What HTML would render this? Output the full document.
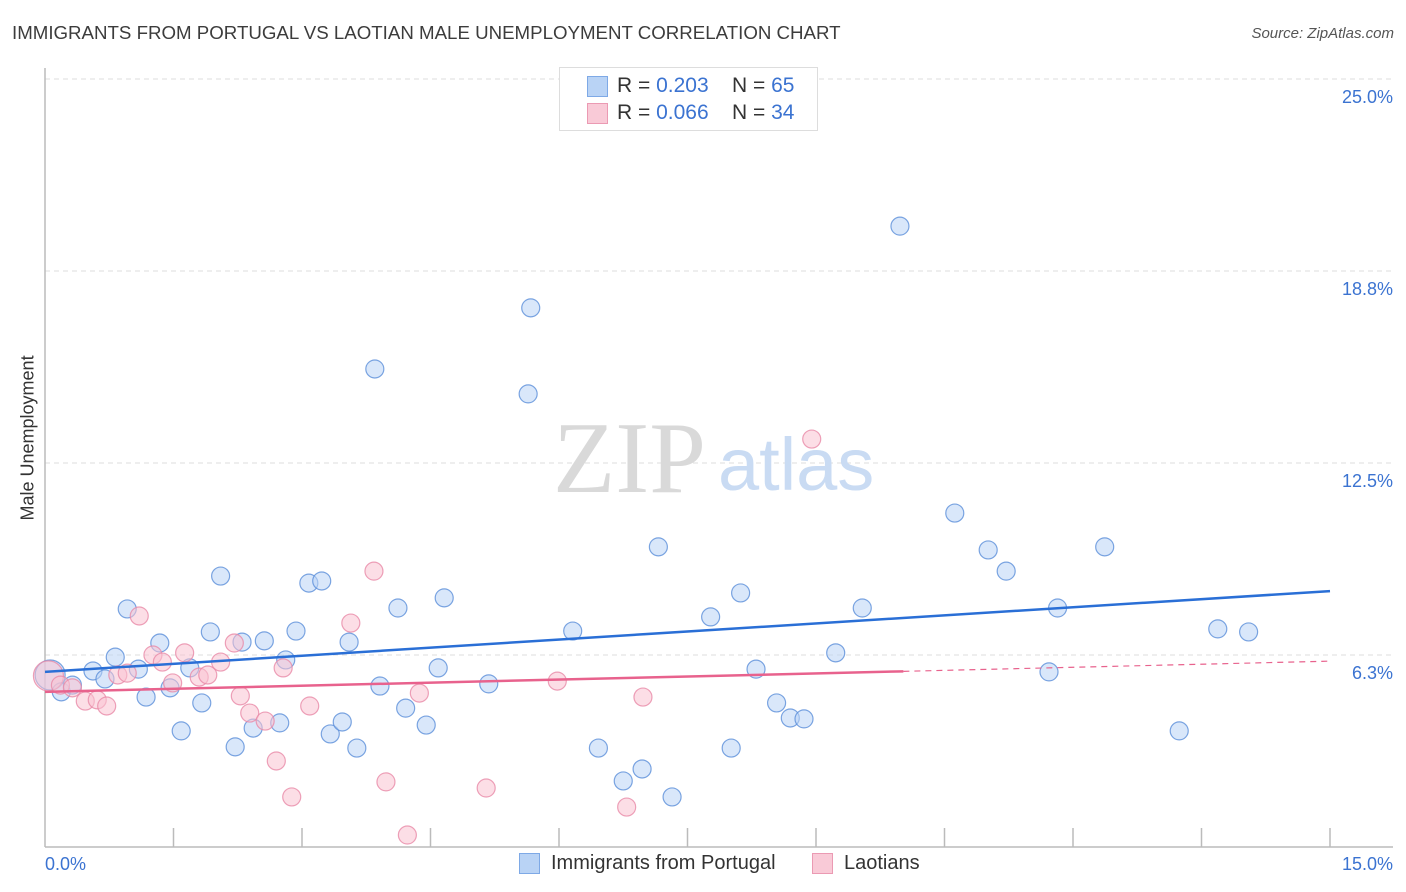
<!DOCTYPE html>
<html><head><meta charset="utf-8">
<style>
body{margin:0;background:#fff;font-family:"Liberation Sans",sans-serif;}
#wrap{position:relative;width:1406px;height:892px;overflow:hidden;}
.t{position:absolute;white-space:nowrap;}
</style></head>
<body>
<div id="wrap">
<div class="t" style="left:12px;top:22px;font-size:18.7px;color:#3c3c3c;">IMMIGRANTS FROM PORTUGAL VS LAOTIAN MALE UNEMPLOYMENT CORRELATION CHART</div>
<div class="t" style="right:12px;top:25px;font-size:15px;color:#555;font-style:italic;">Source: ZipAtlas.com</div>
<div class="t" style="left:-37px;top:445px;font-size:18px;color:#333;transform:rotate(-90deg);width:130px;text-align:center;">Male Unemployment</div>
<svg id="svg" width="1406" height="892" style="position:absolute;left:0;top:0;"></svg>
<div style="position:absolute;left:559px;top:67px;width:257px;height:62px;border:1px solid #ddd;background:#fff;">
 <div style="position:absolute;left:27px;top:8px;width:19px;height:19px;background:#b9d3f5;border:1px solid #7ea9e6;"></div>
 <div class="t" style="left:57px;top:6px;font-size:21px;color:#333;">R = <span style="color:#3b73d1">0.203</span>&nbsp;&nbsp;&nbsp; N = <span style="color:#3b73d1">65</span></div>
 <div style="position:absolute;left:27px;top:35px;width:19px;height:19px;background:#f9cad7;border:1px solid #eb9ab3;"></div>
 <div class="t" style="left:57px;top:33px;font-size:21px;color:#333;">R = <span style="color:#3b73d1">0.066</span>&nbsp;&nbsp;&nbsp; N = <span style="color:#3b73d1">34</span></div>
</div>
<div style="position:absolute;left:519px;top:853px;width:19px;height:19px;background:#b9d3f5;border:1px solid #7ea9e6;"></div>
<div class="t" style="left:551px;top:852px;font-size:20px;color:#333;">Immigrants from Portugal</div>
<div style="position:absolute;left:812px;top:853px;width:19px;height:19px;background:#f9cad7;border:1px solid #eb9ab3;"></div>
<div class="t" style="left:844px;top:852px;font-size:20px;color:#333;">Laotians</div>
</div>
<script>
const yTicks=[25.0,18.8,12.5,6.3];
const yTickLabels=["25.0%","18.8%","12.5%","6.3%"];
const xTickLabels=["0.0%","15.0%"];
const blueX=[0.06,0.19,0.32,0.56,0.70,0.82,0.96,1.09,1.18,1.34,1.46,1.59,1.69,1.83,1.93,2.05,2.22,2.30,2.43,2.56,2.74,2.81,2.93,3.08,3.23,3.33,3.47,3.55,3.64,3.85,3.91,4.12,4.21,4.45,4.59,4.66,5.18,5.64,5.67,6.16,6.46,6.75,6.97,7.16,7.32,7.77,8.01,8.12,8.30,8.54,8.70,8.86,9.23,9.54,9.98,10.62,11.01,11.22,11.72,11.82,12.37,13.24,13.69,14.05];
const blueY=[5.60,5.05,5.27,5.73,5.47,6.18,7.75,5.79,4.88,6.64,5.18,3.78,5.83,4.69,7.00,8.82,3.26,6.67,3.87,6.71,4.04,6.09,7.03,8.59,8.66,3.68,4.07,6.67,3.22,15.56,5.24,7.78,4.52,3.97,5.83,8.11,5.31,14.75,17.55,7.03,3.22,2.15,2.54,9.77,1.63,7.49,3.22,8.27,5.79,4.69,4.20,4.17,6.32,7.78,20.21,10.87,9.67,8.98,5.70,7.78,9.77,3.78,7.10,7.00];
const pinkX=[0.04,0.18,0.32,0.47,0.61,0.72,0.85,0.96,1.10,1.26,1.37,1.49,1.63,1.80,1.90,2.05,2.21,2.28,2.39,2.57,2.70,2.78,2.88,3.09,3.57,3.84,3.98,4.23,4.37,5.15,5.98,6.79,6.98,8.95];
const pinkY=[5.57,5.27,5.18,4.75,4.79,4.59,5.60,5.66,7.52,6.25,6.02,5.34,6.32,5.53,5.60,6.02,6.64,4.92,4.36,4.10,2.80,5.83,1.63,4.59,7.29,8.98,2.12,0.39,5.01,1.92,5.40,1.30,4.88,13.28];
const blueTrend=[5.70,8.33];
const pinkTrend=[5.05,6.05];
const pinkSolidEnd=10.02;

const X0=45,X1=1330,Y0=847,Y25=79;
const xs=v=>X0+v/15*(X1-X0);
const ys=v=>Y0-v/25*(Y0-Y25);
const svg=document.getElementById('svg');
const NS='http://www.w3.org/2000/svg';
function mk(tag,attrs){const e=document.createElementNS(NS,tag);for(const k in attrs)e.setAttribute(k,attrs[k]);svg.appendChild(e);return e;}
yTicks.forEach((t,i)=>{
 const y=ys(t===6.3?6.25:t===18.8?18.75:t);
 const g=mk('line',{x1:X0,x2:1395,y1:y,y2:y,stroke:'#ddd','stroke-dasharray':'5,4','stroke-width':1});
 
 
 const tx=mk('text',{x:1393,y:y+24,'text-anchor':'end','font-size':18,fill:'#3b73d1','font-family':'Liberation Sans'});
 tx.textContent=yTickLabels[i];
 
 
});
let ax=mk('line',{x1:X0,x2:X0,y1:68,y2:Y0,stroke:'#bbb','stroke-width':1.5});


ax=mk('line',{x1:X0,x2:1393,y1:Y0,y2:Y0,stroke:'#bbb','stroke-width':1.5});


for(let i=1;i<=10;i++){const x=xs(i*1.5);const tk=mk('line',{x1:x,x2:x,y1:828,y2:Y0,stroke:'#bbb','stroke-width':1.5});
 
 }
let xl=mk('text',{x:45,y:870,'font-size':18,fill:'#3b73d1','font-family':'Liberation Sans'});xl.textContent=xTickLabels[0];


xl=mk('text',{x:1393,y:870,'text-anchor':'end','font-size':18,fill:'#3b73d1','font-family':'Liberation Sans'});xl.textContent=xTickLabels[1];


let w=mk('text',{x:553,y:492,'font-size':102,fill:'#d9d9d9','font-family':'Liberation Serif'});w.textContent='ZIP';


w=mk('text',{x:718,y:490,'font-size':74,fill:'#c9dbf3','font-family':'Liberation Sans'});w.textContent='atlas';


function pts(X,Y,fill,stroke,name){X.forEach((v,i)=>{const r=i===0?15:9;
 const c=mk('circle',{cx:xs(v),cy:ys(Y[i]),r:r,fill:fill,'fill-opacity':0.55,stroke:stroke,'stroke-width':1.2,'stroke-opacity':0.8});
 
 });}
pts(blueX,blueY,'#b9d3f5','#5b8fd9','point-portugal');
pts(pinkX,pinkY,'#f9c3d2','#e88aa8','point-laotians');
let l=mk('line',{x1:xs(0),y1:ys(blueTrend[0]),x2:xs(15),y2:ys(blueTrend[1]),stroke:'#2a6fd6','stroke-width':2.5});


const pm=pinkTrend[0]+(pinkTrend[1]-pinkTrend[0])*pinkSolidEnd/15;
l=mk('line',{x1:xs(0),y1:ys(pinkTrend[0]),x2:xs(pinkSolidEnd),y2:ys(pm),stroke:'#e8628d','stroke-width':2.5});


l=mk('line',{x1:xs(pinkSolidEnd),y1:ys(pm),x2:xs(15),y2:ys(pinkTrend[1]),stroke:'#e8628d','stroke-width':1.2,'stroke-dasharray':'6,5'});


</script>
</body></html>
